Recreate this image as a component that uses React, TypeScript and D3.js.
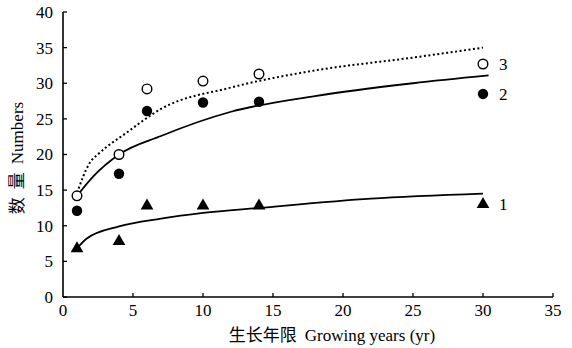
import React, { useEffect, useRef } from 'react';
import * as d3 from 'd3';

// 观测点 (生长年限)
const years = [1, 4, 6, 10, 14, 30];
const series1 = [6.8, 7.8, 12.8, 12.8, 12.8, 13.0]; // 三角形
const series2 = [12.1, 17.3, 26.1, 27.3, 27.4, 28.5]; // 实心圆
const series3 = [14.2, 20.0, 29.2, 30.3, 31.3, 32.7]; // 空心圆

// 拟合曲线
const fit1X = [1, 1.7, 4, 7, 10, 14, 22, 30];
const fit1Y = [6.8, 8.2, 9.9, 11.0, 11.8, 12.5, 13.8, 14.5];
const fit2X = [1, 2.2, 4, 7, 12, 18, 25, 30.4];
const fit2Y = [14.2, 17.0, 20.0, 22.6, 26.0, 28.2, 30.0, 31.1];
const fit3X = [1, 1.9, 2.6, 4.5, 7, 12, 18, 25, 30];
const fit3Y = [14.6, 18.8, 20.2, 23.0, 26.4, 29.4, 31.8, 33.6, 35.0];

const xTicks = [0, 5, 10, 15, 20, 25, 30, 35];
const yTicks = [0, 5, 10, 15, 20, 25, 30, 35, 40];

const W = 572;
const H = 348;

const App = () => {
  const svgRef = useRef<SVGSVGElement>(null);

  useEffect(() => {
    const svg = d3.select(svgRef.current);
    svg.selectAll('*').remove();

    const x = d3.scaleLinear().domain([0, 35]).range([63, 553]);
    const y = d3.scaleLinear().domain([0, 40]).range([297, 12]);
    const serif = '"Liberation Serif", "DejaVu Serif", serif';
    const cjk = '"Noto Sans CJK SC", sans-serif';

    // 坐标轴
    const g = svg.append('g');
    g.append('line').attr('x1', x(0)).attr('x2', x(0)).attr('y1', y(40)).attr('y2', y(0))
      .attr('stroke', '#000').attr('stroke-width', 1.6);
    g.append('line').attr('x1', x(0)).attr('x2', x(35)).attr('y1', y(0)).attr('y2', y(0))
      .attr('stroke', '#000').attr('stroke-width', 1.6);

    g.selectAll('.yt').data(yTicks).join('line')
      .attr('x1', x(0)).attr('x2', x(0) + 4)
      .attr('y1', d => y(d)).attr('y2', d => y(d))
      .attr('stroke', '#000').attr('stroke-width', 1.3);
    g.selectAll('.xt').data(xTicks.slice(1)).join('line')
      .attr('x1', d => x(d)).attr('x2', d => x(d))
      .attr('y1', y(0)).attr('y2', y(0) - 4)
      .attr('stroke', '#000').attr('stroke-width', 1.3);

    g.selectAll('.yl').data(yTicks).join('text')
      .attr('x', 53).attr('y', d => y(d)).attr('dy', '0.35em')
      .attr('text-anchor', 'end').attr('fill', '#000')
      .style('font-family', serif).style('font-size', '17px')
      .text(d => d);
    g.selectAll('.xl').data(xTicks).join('text')
      .attr('x', d => x(d)).attr('y', 310).attr('dy', '0.35em')
      .attr('text-anchor', 'middle').attr('fill', '#000')
      .style('font-family', serif).style('font-size', '17px')
      .text(d => d);

    // 轴标题
    const xt = g.append('text').attr('x', 332).attr('y', 335).attr('dy', '0.35em')
      .attr('text-anchor', 'middle').attr('fill', '#000').style('font-size', '17px');
    xt.append('tspan').style('font-family', cjk).text('生长年限');
    xt.append('tspan').style('font-family', serif).attr('dx', 8).text('Growing years (yr)');

    const yt = g.append('text')
      .attr('transform', `translate(17,158) rotate(-90)`)
      .attr('dy', '0.35em').attr('fill', '#000')
      .attr('text-anchor', 'middle').style('font-size', '17px');
    yt.append('tspan').style('font-family', cjk).text('数');
    yt.append('tspan').style('font-family', cjk).attr('dx', 8).text('量');
    yt.append('tspan').style('font-family', serif).attr('dx', 8).text('Numbers');

    // 拟合曲线
    const line = d3.line<[number, number]>()
      .x(d => x(d[0])).y(d => y(d[1]))
      .curve(d3.curveMonotoneX);
    const pts = (xs: number[], ys: number[]) => xs.map((v, i) => [v, ys[i]] as [number, number]);

    svg.append('path').attr('d', line(pts(fit1X, fit1Y)))
      .attr('fill', 'none').attr('stroke', '#000').attr('stroke-width', 1.8);
    svg.append('path').attr('d', line(pts(fit2X, fit2Y)))
      .attr('fill', 'none').attr('stroke', '#000').attr('stroke-width', 1.8);
    svg.append('path').attr('d', line(pts(fit3X, fit3Y)))
      .attr('fill', 'none').attr('stroke', '#000').attr('stroke-width', 2)
      .attr('stroke-dasharray', '2 2.5');

    // 数据点
    const tri = d3.symbol().type(d3.symbolTriangle).size(70);
    svg.selectAll('.s1').data(years).join('path')
      .attr('d', tri)
      .attr('transform', (d, i) => `translate(${x(d)},${y(series1[i])})`)
      .attr('fill', '#000');
    svg.selectAll('.s2').data(years).join('circle')
      .attr('cx', d => x(d)).attr('cy', (d, i) => y(series2[i]))
      .attr('r', 5.2).attr('fill', '#000');
    svg.selectAll('.s3').data(years).join('circle')
      .attr('cx', d => x(d)).attr('cy', (d, i) => y(series3[i]))
      .attr('r', 4.8).attr('fill', '#fff').attr('stroke', '#000').attr('stroke-width', 1.4);

    // 系列标签
    const last = years.length - 1;
    const labels: [string, number][] = [['1', series1[last]], ['2', series2[last]], ['3', series3[last]]];
    svg.selectAll('.lab').data(labels).join('text')
      .attr('x', x(years[last]) + 16).attr('y', d => y(d[1])).attr('dy', '0.35em')
      .attr('text-anchor', 'start').attr('fill', '#000')
      .style('font-family', serif).style('font-size', '17px')
      .text(d => d[0]);
  }, []);

  return (
    <svg ref={svgRef} width={W} height={H}
      style={{ position: 'absolute', left: 0, top: 0, background: '#fff' }} />
  );
};

export default App;
